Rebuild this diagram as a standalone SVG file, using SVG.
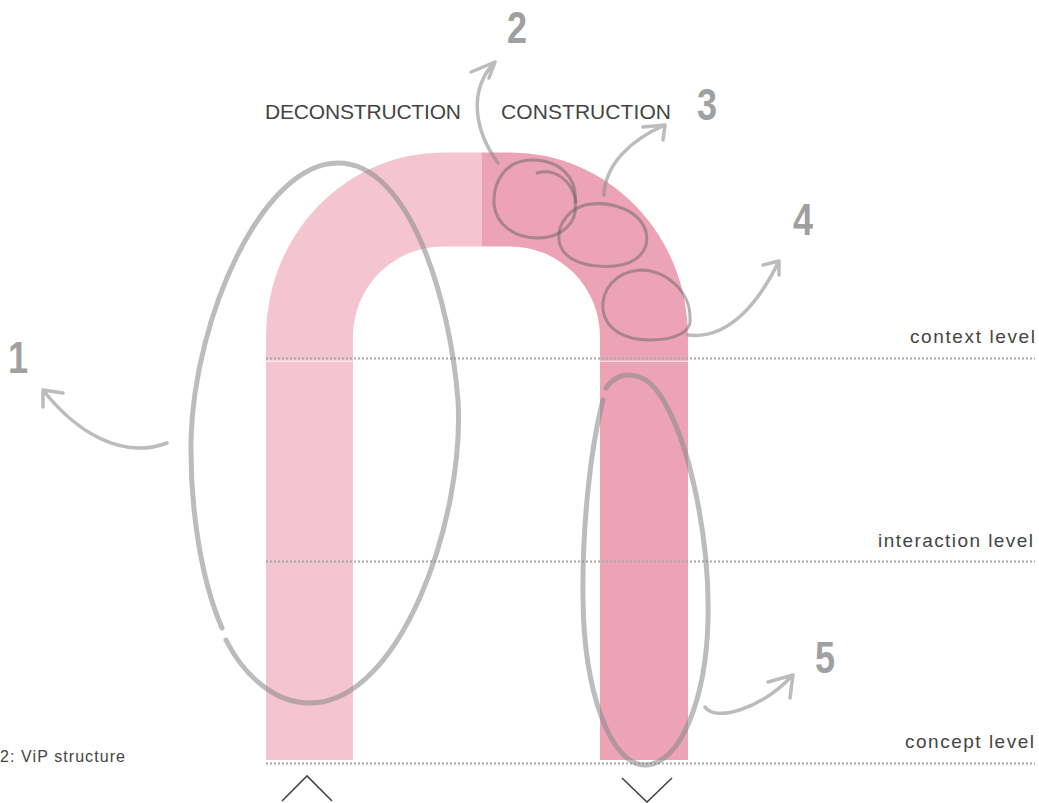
<svg xmlns="http://www.w3.org/2000/svg" width="1039" height="803" viewBox="0 0 1039 803">
  <style>
    .lbl{font-family:"Liberation Sans",Arial,sans-serif;fill:#444;}
    .num{font-family:"Liberation Sans",Arial,sans-serif;font-weight:bold;fill:#a0a0a0;font-size:45px;text-anchor:middle;}
    .dot{stroke:#a8a8a8;stroke-width:2;stroke-dasharray:2 2;fill:none;}
    .loop{fill:none;stroke:#8c8c8c;stroke-opacity:.58;stroke-width:5;stroke-linecap:round;}
    .small{fill:none;stroke:#666;stroke-opacity:.5;stroke-width:3;stroke-linecap:round;}
    .arr{fill:none;stroke:#8c8c8c;stroke-opacity:.58;stroke-width:3.5;stroke-linecap:round;stroke-linejoin:round;}
    .chev{fill:none;stroke:#444;stroke-width:1.6;}
    .light{fill:#F4C4D0;}
    .dark{fill:#ECA3B7;}
  </style>

  <g id="band-deconstruction">
    <path class="light" d="M266,360.8 L266,336 A177,184 0 0 1 443,152.5 L482,152.5 L482,246.5 L443,246.5 A90,90 0 0 0 353,336.5 L353,360.8 Z"/>
    <rect class="light" x="266" y="361.6" width="87" height="398.4"/>
  </g>
  <g id="band-construction">
    <path class="dark" d="M482,152.5 L511,152.5 A177,184 0 0 1 688,336 L688,360.8 L600,360.8 L600,336.5 A90,90 0 0 0 510,246.5 L482,246.5 Z"/>
    <rect class="dark" x="600" y="361.6" width="88" height="398.4"/>
  </g>

  <g id="levels">
    <line class="dot" x1="266" y1="358.5" x2="1035" y2="358.5"/>
    <line class="dot" x1="266" y1="561.5" x2="1035" y2="561.5"/>
    <line class="dot" x1="266" y1="763.5" x2="1035" y2="763.5"/>
    <text class="lbl" x="910" y="343" font-size="19" textLength="125" lengthAdjust="spacing">context level</text>
    <text class="lbl" x="878" y="547" font-size="19" textLength="155" lengthAdjust="spacing">interaction level</text>
    <text class="lbl" x="905" y="748" font-size="19" textLength="129" lengthAdjust="spacing">concept level</text>
  </g>

  <g id="headings">
    <text class="lbl" x="265" y="119" font-size="21" textLength="196" lengthAdjust="spacing">DECONSTRUCTION</text>
    <text class="lbl" x="501" y="119" font-size="21" textLength="170" lengthAdjust="spacing">CONSTRUCTION</text>
    <text class="lbl" x="0" y="762" font-size="16" textLength="125" lengthAdjust="spacing">2: ViP structure</text>
  </g>

  <g id="loop-1">
    <path class="loop" d="M222,628 C202,582 190,512 191,440 C194,318 262,163 338,163 C410,163 450,300 458,400 C465,520 400,703 310,703 C272,703 242,672 226,640"/>
  </g>
  <g id="loop-2">
    <path class="small" stroke-width="4" d="M575,203 C578,178 560,160 532,160 C505,160 493,182 494,204 C496,225 515,238 538,238 C562,238 578,222 575,203"/>
    <path class="small" stroke-width="2.5" d="M537,173 C555,168 572,180 576,202"/>
  </g>
  <g id="loop-3">
    <path class="small" stroke-width="2.5" d="M646,232 C640,210 610,200 585,205 C563,212 556,230 560,245 C566,262 590,268 615,266 C637,264 650,250 646,232"/>
  </g>
  <g id="loop-4">
    <path class="small" stroke-width="2.5" d="M690,318 C690,290 665,270 640,270 C615,272 601,290 603,310 C606,330 625,340 650,340 C675,340 692,332 690,318"/>
  </g>
  <g id="loop-5">
    <path class="loop" d="M603,400 C590,450 582,530 583,600 C584,690 610,765 645,765 C680,765 706,700 708,620 C710,540 690,440 660,395 C645,372 620,368 606,388"/>
  </g>

  <g id="numbers">
    <text class="num" transform="translate(18,373) scale(0.8,1)">1</text>
    <text class="num" transform="translate(517,43) scale(0.8,1)">2</text>
    <text class="num" transform="translate(707,120) scale(0.8,1)">3</text>
    <text class="num" transform="translate(803,235) scale(0.8,1)">4</text>
    <text class="num" transform="translate(825,673) scale(0.8,1)">5</text>
  </g>

  <g id="connectors">
    <path class="arr" d="M167,443 C122,460 76,432 43,390 M43,390 L63,393 M43,390 L43,407"/>
    <path class="arr" d="M498,163 C474,130 468,90 495,62 M495,62 L471,72 M495,62 L489,78"/>
    <path class="arr" d="M604,195 C605,165 630,140 665,125 M665,125 L643,127 M665,125 L663,140"/>
    <path class="arr" d="M688,335 C730,340 760,300 779,261 M779,261 L763,265 M779,261 L779,275"/>
    <path class="arr" d="M705,707 C715,722 760,710 793,675 M793,675 L768,682 M793,675 L790,698"/>
  </g>

  <g id="chevrons">
    <polyline class="chev" points="282,801 307,776 332,801"/>
    <polyline class="chev" points="622,778 647,802 672,778"/>
  </g>
</svg>
